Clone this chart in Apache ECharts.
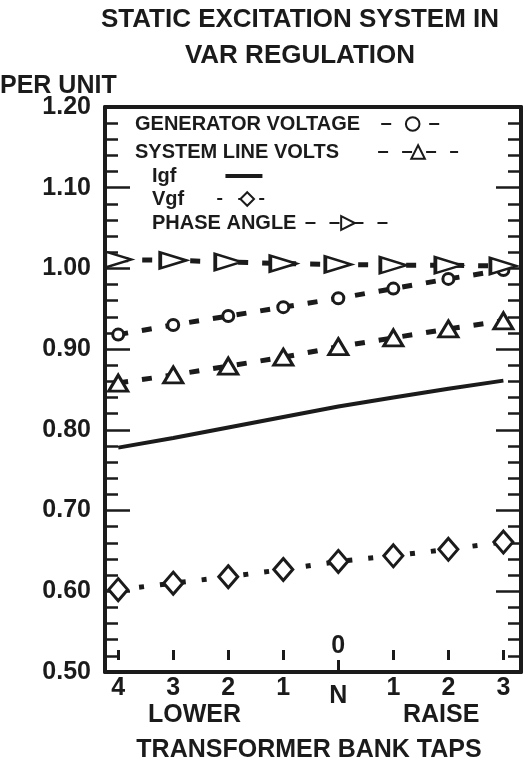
<!DOCTYPE html>
<html lang="en">
<head>
  <meta charset="UTF-8">
  <title>Static excitation system in VAR regulation</title>
  <style>html,body{margin:0;padding:0;background:#fff}</style>
</head>
<body>
  <div class="wrapper" style="width:523px;height:766px;"></div>

  <script src="https://cdn.jsdelivr.net/npm/echarts@6/dist/echarts.min.js"></script>
  <script>
    // transformer taps, lower 4 .. N .. raise 3
    const tapPos = [0, 1, 2, 3, 4, 5, 6, 7]
    const tapLabels = ['4', '3', '2', '1', 'N', '1', '2', '3']

    const genVoltage = [0.918, 0.930, 0.941, 0.952, 0.963, 0.975, 0.987, 0.998]
    const lineVolts = [0.858, 0.868, 0.879, 0.890, 0.903, 0.914, 0.925, 0.935]
    const igf = [0.778, 0.790, 0.803, 0.816, 0.829, 0.840, 0.851, 0.861]
    const vgf = [0.602, 0.610, 0.618, 0.627, 0.637, 0.644, 0.652, 0.661]
    const phaseAngle = [1.011, 1.010, 1.008, 1.006, 1.005, 1.004, 1.004, 1.003]

    const ink = '#1b1b1b'
    const font = '"Liberation Sans", Arial, sans-serif'
    const pairs = arr => tapPos.map((x, i) => [x, arr[i]])

    const echart = echarts.init(document.querySelector('.wrapper'))

    const hollow = { color: '#fff', borderColor: ink, borderWidth: 3 }

    const legendBase = {
      orient: 'horizontal',
      align: 'right',
      padding: 0,
      itemHeight: 17,
      textStyle: { color: ink, fontFamily: font, fontWeight: 'bold', fontSize: 20 }
    }
    function legendAt(item, left, top, itemWidth, gap, extra) {
      return Object.assign({}, legendBase, {
        data: [item], left: left, top: top, itemWidth: itemWidth,
        textStyle: Object.assign({}, legendBase.textStyle, { padding: [0, gap, 0, 0] })
      }, extra || {})
    }

    const xBase = { type: 'value', min: -0.24, max: 7.32, splitLine: { show: false } }
    const yBase = {
      type: 'value', min: 0.5, max: 1.2, interval: 0.1,
      splitLine: { show: false },
      axisLine: { onZero: false, lineStyle: { color: ink, width: 4 } },
      axisTick: { inside: true, length: 25, lineStyle: { color: ink, width: 2.5 } },
      minorTick: { show: true, splitNumber: 5, length: 13, lineStyle: { color: ink, width: 2.5 } }
    }

    const option = {
      animation: false,
      grid: { left: 105, right: 2, top: 107, bottom: 94 },
      legend: [
        legendAt('GENERATOR VOLTAGE', 135, 114, 63, 16),
        legendAt('SYSTEM LINE VOLTS', 135, 142, 80, 34),
        legendAt({ name: 'Igf', icon: 'rect' }, 152, 166, 37, 44, { itemHeight: 4, itemStyle: { color: ink } }),
        legendAt('Vgf', 152, 189, 60, 28),
        legendAt('PHASE ANGLE', 152, 213, 85, 4)
      ],
      xAxis: [
        Object.assign({}, xBase, {
          position: 'bottom',
          axisLine: { onZero: false, lineStyle: { color: ink, width: 4 } },
          axisTick: { customValues: [4], inside: true, length: 12, lineStyle: { color: ink, width: 3 } },
          axisLabel: {
            customValues: tapPos,
            formatter: v => v === 4 ? '{n|N}' : tapLabels[Math.round(v)],
            color: ink, fontFamily: font, fontWeight: 'bold', fontSize: 25, margin: 4,
            rich: { n: { fontFamily: font, fontWeight: 'bold', fontSize: 25, color: ink, padding: [8, 0, 0, 0] } }
          }
        }),
        Object.assign({}, xBase, {
          position: 'bottom', offset: -12,
          axisLine: { show: false, onZero: false },
          axisTick: { customValues: [0, 1, 2, 3, 5, 6, 7], inside: true, length: 10, lineStyle: { color: ink, width: 3 } },
          axisLabel: {
            customValues: [4], formatter: () => '0', inside: true, margin: 1,
            color: ink, fontFamily: font, fontWeight: 'bold', fontSize: 25
          }
        }),
        Object.assign({}, xBase, {
          position: 'top',
          axisLine: { onZero: false, lineStyle: { color: ink, width: 4 } },
          axisTick: { show: false }, axisLabel: { show: false }
        })
      ],
      yAxis: [
        Object.assign({}, yBase, {
          position: 'left',
          axisLabel: {
            formatter: v => v.toFixed(2), margin: 14,
            color: ink, fontFamily: font, fontWeight: 'bold', fontSize: 25
          }
        }),
        Object.assign({}, yBase, { position: 'right', axisLabel: { show: false } })
      ],
      graphic: [
        {
          type: 'text', x: 300, y: 2,
          style: {
            text: 'STATIC EXCITATION SYSTEM IN\nVAR REGULATION', align: 'center', lineHeight: 36,
            fill: ink, font: 'bold 26px ' + font
          }
        },
        { type: 'text', x: 0, y: 74, style: { text: 'PER UNIT', fill: ink, font: 'bold 25px ' + font } },
        { type: 'text', x: 148, y: 703, style: { text: 'LOWER', fill: ink, font: 'bold 25px ' + font } },
        { type: 'text', x: 403, y: 703, style: { text: 'RAISE', fill: ink, font: 'bold 25px ' + font } },
        {
          type: 'text', x: 309, y: 738,
          style: { text: 'TRANSFORMER BANK TAPS', align: 'center', fill: ink, font: 'bold 25px ' + font }
        }
      ],
      series: [
        {
          name: 'GENERATOR VOLTAGE', type: 'line', data: pairs(genVoltage),
          symbol: 'circle', symbolSize: 11, itemStyle: hollow,
          lineStyle: { color: ink, width: 5, type: [10, 14] }
        },
        {
          name: 'SYSTEM LINE VOLTS', type: 'line', data: pairs(lineVolts),
          symbol: 'triangle', symbolSize: [19, 16], itemStyle: hollow,
          lineStyle: { color: ink, width: 5, type: [10, 14] }
        },
        {
          name: 'Igf', type: 'line', data: pairs(igf), symbol: 'none',
          itemStyle: { color: ink },
          lineStyle: { color: ink, width: 4 }
        },
        {
          name: 'Vgf', type: 'line', data: pairs(vgf),
          symbol: 'diamond', symbolSize: [19, 22], itemStyle: hollow,
          lineStyle: { color: ink, width: 5, type: [5, 16] }
        },
        {
          name: 'PHASE ANGLE', type: 'line', data: pairs(phaseAngle),
          symbol: 'triangle', symbolRotate: -90, symbolSize: [16, 26], itemStyle: hollow,
          lineStyle: { color: ink, width: 5, type: [10, 14] }
        }
      ]
    }

    echart.setOption(option)
  </script>
</body>
</html>
